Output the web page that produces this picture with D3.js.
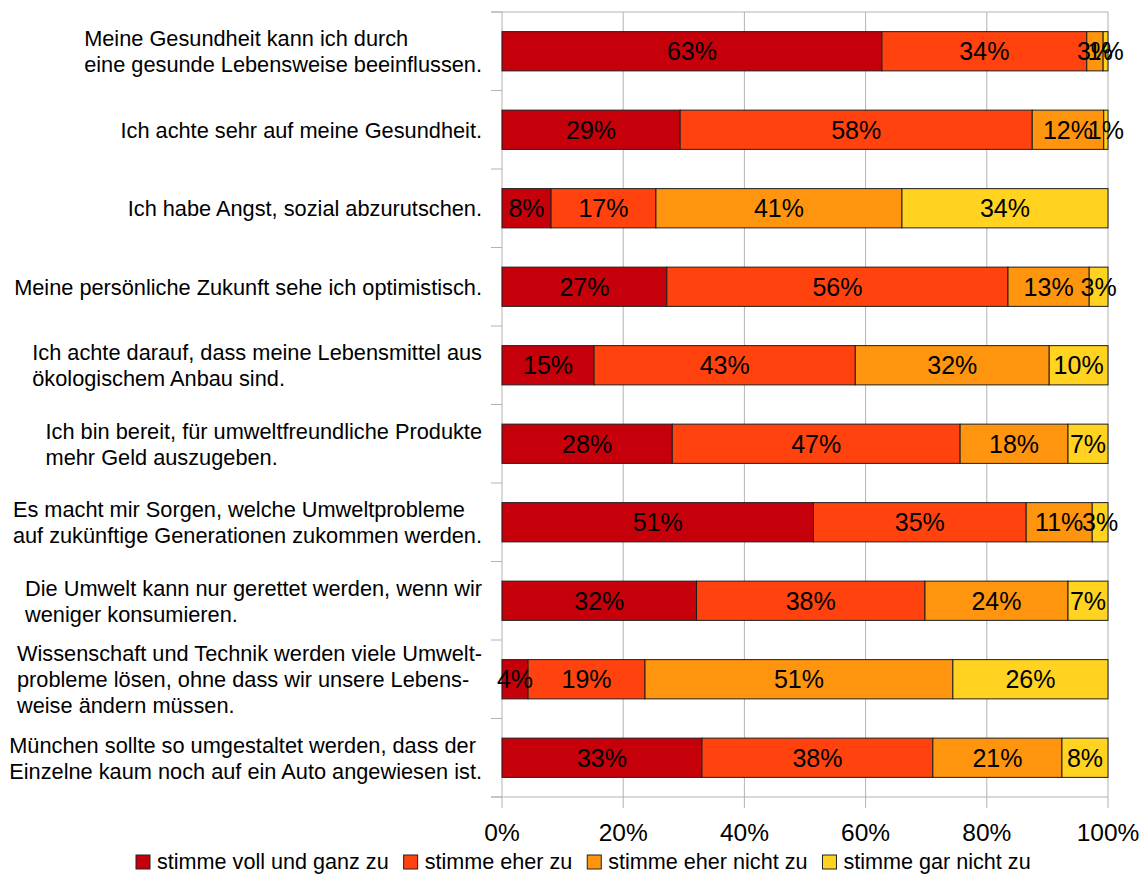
<!DOCTYPE html>
<html>
<head>
<meta charset="utf-8">
<script src="https://cdn.jsdelivr.net/npm/d3@7"></script>
<style>
  body { margin: 0; background: #fff; }
  svg { display: block; font-family: "Liberation Sans", Arial, sans-serif; }
</style>
</head>
<body>
<div id="chart"></div>
<script>
// Chart dimensions
const width = 1143;
const height = 875;

// Categories (one array per label, lines split as in the original)
const categories = [
  ["Meine Gesundheit kann ich durch", "eine gesunde Lebensweise beeinflussen."],
  ["Ich achte sehr auf meine Gesundheit."],
  ["Ich habe Angst, sozial abzurutschen."],
  ["Meine persönliche Zukunft sehe ich optimistisch."],
  ["Ich achte darauf, dass meine Lebensmittel aus", "ökologischem Anbau sind."],
  ["Ich bin bereit, für umweltfreundliche Produkte", "mehr Geld auszugeben."],
  ["Es macht mir Sorgen, welche Umweltprobleme", "auf zukünftige Generationen zukommen werden."],
  ["Die Umwelt kann nur gerettet werden, wenn wir", "weniger konsumieren."],
  ["Wissenschaft und Technik werden viele Umwelt-", "probleme lösen, ohne dass wir unsere Lebens-", "weise ändern müssen."],
  ["München sollte so umgestaltet werden, dass der", "Einzelne kaum noch auf ein Auto angewiesen ist."]
];

const seriesNames = ["stimme voll und ganz zu", "stimme eher zu", "stimme eher nicht zu", "stimme gar nicht zu"];

// Values in percent, one array per series, in category order
const vollUndGanz = [62.7, 29.4,  8.1, 27.2, 15.2, 28.1, 51.4, 32.1,  4.3, 33.0];
const eherZu      = [33.8, 58.1, 17.3, 56.3, 43.1, 47.5, 35.1, 37.7, 19.3, 38.1];
const eherNicht   = [ 2.7, 11.8, 40.6, 13.4, 32.0, 17.8, 10.9, 23.6, 50.8, 21.3];
const garNicht    = [ 0.8,  0.7, 34.0,  3.1,  9.7,  6.6,  2.6,  6.6, 25.6,  7.6];

const xTicks = [0, 20, 40, 60, 80, 100];

const colors = ["#c5000b", "#ff420e", "#ff950e", "#ffd320"];

// Build table for d3.stack
const seriesValues = [vollUndGanz, eherZu, eherNicht, garNicht];
const table = categories.map((c, i) => {
  const row = { key: i };
  seriesNames.forEach((s, j) => row[s] = seriesValues[j][i]);
  return row;
});

const stacked = d3.stack().keys(seriesNames)(table);

// Scales
const x = d3.scaleLinear().domain([0, 100]).range([502, 1108]);
const y = d3.scaleBand()
  .domain(d3.range(categories.length))
  .range([12, 797])
  .paddingInner(0.5)
  .paddingOuter(0.25);

const color = d3.scaleOrdinal().domain(seriesNames).range(colors);

const svg = d3.select("#chart").append("svg")
  .attr("width", width)
  .attr("height", height);

const grid = "#b3b3b3";

// Vertical grid lines
svg.append("g")
  .selectAll("line")
  .data(xTicks)
  .join("line")
    .attr("x1", d => x(d)).attr("x2", d => x(d))
    .attr("y1", 12).attr("y2", 808)
    .attr("stroke", grid)
    .attr("stroke-width", 1);

// Category boundaries ticks (left)
const bounds = d3.range(categories.length + 1).map(i => 12 + i * y.step());
svg.append("g")
  .selectAll("line")
  .data(bounds)
  .join("line")
    .attr("x1", 491).attr("x2", 502)
    .attr("y1", d => d).attr("y2", d => d)
    .attr("stroke", grid);

// Top and bottom lines
svg.append("line")
  .attr("x1", 491).attr("x2", x(100))
  .attr("y1", 12).attr("y2", 12)
  .attr("stroke", grid);
svg.append("line")
  .attr("x1", 491).attr("x2", x(100))
  .attr("y1", 797).attr("y2", 797)
  .attr("stroke", grid);

// Bars
const layer = svg.append("g")
  .selectAll("g")
  .data(stacked)
  .join("g")
    .attr("fill", d => color(d.key));

layer.selectAll("rect")
  .data(d => d)
  .join("rect")
    .attr("x", d => x(d[0]))
    .attr("y", d => y(d.data.key))
    .attr("width", d => x(d[1]) - x(d[0]))
    .attr("height", y.bandwidth())
    .attr("stroke", "#1e1e1e")
    .attr("stroke-width", 1);

// Value labels
const fmt = v => Math.round(v) + "%";
svg.append("g")
  .attr("font-size", 25)
  .attr("text-anchor", "middle")
  .selectAll("g")
  .data(stacked)
  .join("g")
  .selectAll("text")
  .data(d => d)
  .join("text")
    .attr("x", d => (x(d[0]) + x(d[1])) / 2)
    .attr("y", d => y(d.data.key) + y.bandwidth() / 2)
    .attr("dy", "0.36em")
    .attr("fill", "#000")
    .text(d => fmt(d[1] - d[0]));

// Category labels: block left-aligned, right edge at 482
const lineH = 26;
const catLabels = svg.append("g")
  .attr("font-size", 21.75)
  .attr("fill", "#000")
  .selectAll("text")
  .data(categories)
  .join("text")
    .attr("y", (d, i) => y(i) + y.bandwidth() / 2);

catLabels.each(function(lines) {
  const t = d3.select(this);
  const cy = +t.attr("y");
  lines.forEach((line, k) => {
    t.append("tspan")
      .attr("y", cy + (k - (lines.length - 1) / 2) * lineH)
      .attr("dy", "0.36em")
      .text(line);
  });
  let maxW = 0;
  t.selectAll("tspan").each(function() {
    maxW = Math.max(maxW, this.getComputedTextLength());
  });
  t.selectAll("tspan").attr("x", 482 - maxW);
});

// X axis tick labels
svg.append("g")
  .attr("font-size", 24.5)
  .attr("text-anchor", "middle")
  .selectAll("text")
  .data(xTicks)
  .join("text")
    .attr("x", d => x(d))
    .attr("y", 841)
    .text(d => d + "%");

// Legend
const legend = svg.append("g").attr("font-size", 21.6);
let lx = 136;
seriesNames.forEach((name, i) => {
  legend.append("rect")
    .attr("x", lx).attr("y", 855)
    .attr("width", 14).attr("height", 14)
    .attr("fill", colors[i])
    .attr("stroke", "#222");
  const t = legend.append("text")
    .attr("x", lx + 21)
    .attr("y", 869)
    .text(name);
  lx += 21 + t.node().getComputedTextLength() + 15;
});
</script>
</body>
</html>
